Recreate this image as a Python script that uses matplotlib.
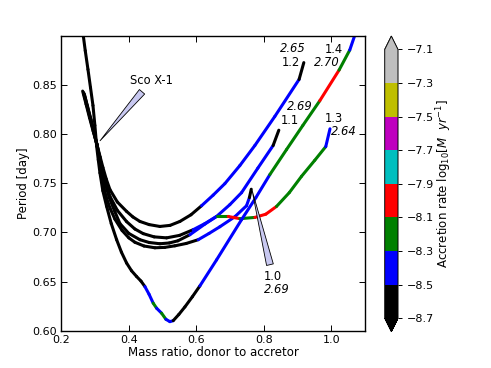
import matplotlib
matplotlib.use('Agg')
import matplotlib.pyplot as plt
import numpy as np
from matplotlib.collections import LineCollection
from matplotlib.colors import ListedColormap, BoundaryNorm
from matplotlib.cm import ScalarMappable

# accretion-rate colour classes (log10 Mdot)
rate_bounds = [-8.7, -8.5, -8.3, -8.1, -7.9, -7.7, -7.5, -7.3, -7.1]
rate_colors = ['k', 'b', 'g', 'r', 'c', 'm', 'y', '0.75']
K, B, G, R = -8.6, -8.4, -8.2, -8.0

# initial donor mass / initial period labels
curve_mass = ['1.0', '1.1', '1.2', '1.3', '1.4']
curve_period = ['2.69', '2.69', '2.65', '2.64', '2.70']

# track 1.4 (deep one)
q_14 = [0.2634, 0.271, 0.279, 0.2865, 0.2938, 0.2995, 0.3047, 0.3095, 0.3145, 0.323,
        0.3343, 0.348, 0.3639, 0.378, 0.3935, 0.408, 0.4231, 0.436, 0.4476, 0.46,
        0.4722, 0.4822, 0.497, 0.5098, 0.5216, 0.5314, 0.548, 0.566, 0.588, 0.6104,
        0.6598, 0.7337, 0.776, 0.8175, 0.8669, 0.9151, 0.9654, 1.0225, 1.0541, 1.0733]
p_14 = [0.905, 0.885, 0.866, 0.8475, 0.8293, 0.809, 0.7878, 0.774, 0.7606, 0.7425,
        0.7265, 0.709, 0.6926, 0.680, 0.6688, 0.661, 0.6551, 0.6505, 0.6449, 0.637,
        0.628, 0.6229, 0.6178, 0.6116, 0.6092, 0.6102, 0.6165, 0.6242, 0.6345, 0.6456,
        0.6721, 0.713, 0.7354, 0.7589, 0.7844, 0.8089, 0.8341, 0.8653, 0.8857, 0.905]
m_14 = [K, K, K, K, K, K, K, K, K, K,
        K, K, K, K, K, K, K, K, B, B,
        G, B, G, B, B, K, K, K, K, B,
        B, B, B, G, G, G, R, G, B, B]

# track 1.2
q_12 = [0.2657, 0.2755, 0.2849, 0.2955, 0.3056, 0.315, 0.3234, 0.333, 0.3441, 0.366,
        0.3935, 0.412, 0.4329, 0.46, 0.492, 0.522, 0.5512, 0.584, 0.6154, 0.6497,
        0.6843, 0.7287, 0.7731, 0.8322, 0.9041, 0.9181]
p_12 = [0.8426, 0.8295, 0.8171, 0.803, 0.7895, 0.777, 0.766, 0.7545, 0.7436, 0.731,
        0.7214, 0.7158, 0.7112, 0.708, 0.7061, 0.7072, 0.7112, 0.718, 0.7272, 0.738,
        0.7497, 0.7681, 0.7885, 0.8181, 0.8558, 0.8729]
m_12 = [K, K, K, K, K, K, K, K, K, K,
        K, K, K, K, K, K, K, K, B, B,
        B, B, B, B, K, K]

# track 1.1
q_11 = [0.2633, 0.2735, 0.2834, 0.2945, 0.3056, 0.3135, 0.3219, 0.332, 0.3441, 0.366,
        0.3935, 0.418, 0.4426, 0.475, 0.5118, 0.55, 0.5905, 0.625, 0.6598, 0.6991,
        0.7337, 0.782, 0.8272, 0.8441]
p_11 = [0.8439, 0.8305, 0.8171, 0.803, 0.7895, 0.7765, 0.764, 0.75, 0.7367, 0.7225,
        0.711, 0.7035, 0.6988, 0.6955, 0.6945, 0.697, 0.7028, 0.709, 0.7163, 0.7283,
        0.7405, 0.7655, 0.7885, 0.8041]
m_11 = [K, K, K, K, K, K, K, K, K, K,
        K, K, K, K, K, K, B, B, B, B,
        B, B, K, K]

# track 1.3
q_13 = [0.2672, 0.277, 0.2864, 0.296, 0.3056, 0.313, 0.3204, 0.330, 0.342, 0.357,
        0.3737, 0.40, 0.4329, 0.46, 0.492, 0.52, 0.5453, 0.5808, 0.6251, 0.6598,
        0.6941, 0.7287, 0.7731, 0.8056, 0.8373, 0.875, 0.9112, 0.9506, 0.9831, 0.9956]
p_13 = [0.8416, 0.8288, 0.816, 0.8025, 0.7895, 0.7775, 0.766, 0.750, 0.7355, 0.7225,
        0.709, 0.699, 0.6926, 0.6898, 0.6885, 0.6893, 0.6915, 0.6977, 0.7085, 0.7163,
        0.7163, 0.714, 0.7153, 0.7186, 0.7265, 0.7405, 0.7571, 0.7735, 0.7874, 0.8055]
m_13 = [K, K, K, K, K, K, K, K, K, K,
        K, K, K, K, K, K, K, B, B, G,
        R, G, R, R, G, G, G, G, B, B]

# track 1.0
q_10 = [0.2686, 0.278, 0.2879, 0.297, 0.3056, 0.3115, 0.317, 0.324, 0.333, 0.3445,
        0.3589, 0.38, 0.40, 0.418, 0.445, 0.4772, 0.5064, 0.5364, 0.57, 0.6053,
        0.6375, 0.6695, 0.7139, 0.7485, 0.757, 0.7625]
p_10 = [0.8405, 0.8278, 0.815, 0.802, 0.7895, 0.7765, 0.763, 0.749, 0.736, 0.7245,
        0.7135, 0.702, 0.6945, 0.690, 0.6862, 0.6844, 0.6848, 0.6864, 0.6888, 0.6926,
        0.699, 0.7058, 0.716, 0.7272, 0.7355, 0.744]
m_10 = [K, K, K, K, K, K, K, K, K, K,
        K, K, K, K, K, K, K, K, K, B,
        B, B, B, B, K, K]

tracks = [(q_10, p_10, m_10), (q_11, p_11, m_11), (q_12, p_12, m_12),
          (q_13, p_13, m_13), (q_14, p_14, m_14)]

cmap = ListedColormap(rate_colors)
cmap.set_under('k')
cmap.set_over('0.75')
norm = BoundaryNorm(rate_bounds, cmap.N)

fig = plt.figure(figsize=(4.91, 3.68), dpi=100)
ax = fig.add_axes([0.1248, 0.1014, 0.6191, 0.8008])

for q, p, m in tracks:
    pts = np.column_stack([q, p])
    segs = np.stack([pts[:-1], pts[1:]], axis=1)
    lc = LineCollection(segs, cmap=cmap, norm=norm, linewidths=2.2,
                        capstyle='round', joinstyle='round')
    lc.set_array(np.array(m[:-1]))
    ax.add_collection(lc)

ax.set_xlim(0.2, 1.1)
ax.set_ylim(0.6, 0.9)
ax.set_xticks([0.2, 0.4, 0.6, 0.8, 1.0])
ax.set_yticks([0.60, 0.65, 0.70, 0.75, 0.80, 0.85])
ax.set_yticklabels(['0.60', '0.65', '0.70', '0.75', '0.80', '0.85'])
ax.tick_params(direction='in', top=True, right=True, length=4, width=0.7, labelsize=8, pad=3)
for s in ax.spines.values():
    s.set_linewidth(1.0)
ax.set_xlabel('Mass ratio, donor to accretor', fontsize=8.5, labelpad=1)
ax.set_ylabel('Period [day]', fontsize=8.5, labelpad=2)

fs = 8.3
arrow_kw = dict(arrowstyle='wedge,tail_width=0.6,shrink_factor=0.5', fc='#c8c8f0', ec='k', lw=0.6)

# Sco X-1
ax.annotate('Sco X-1', xy=(0.3095, 0.7912), xytext=(0.468, 0.8548), ha='center', va='center',
            fontsize=fs, arrowprops=arrow_kw)

# curve-end labels
ax.text(0.8846, 0.8875, curve_period[2], style='italic', fontsize=fs, ha='center', va='center')
ax.text(0.8796, 0.8732, curve_mass[2], fontsize=fs, ha='center', va='center')
ax.text(1.0077, 0.8862, curve_mass[4], fontsize=fs, ha='center', va='center')
ax.text(0.987, 0.8732, curve_period[4], style='italic', fontsize=fs, ha='center', va='center')
ax.text(0.9062, 0.8282, curve_period[1], style='italic', fontsize=fs, ha='center', va='center')
ax.text(0.8766, 0.8143, curve_mass[1], fontsize=fs, ha='center', va='center')
ax.text(1.0068, 0.8165, curve_mass[3], fontsize=fs, ha='center', va='center')
ax.text(1.0364, 0.8030, curve_period[3], style='italic', fontsize=fs, ha='center', va='center')
ax.annotate(curve_mass[0], xy=(0.7633, 0.7453), xytext=(0.8263, 0.6550), ha='center', va='center',
            fontsize=fs, arrowprops=arrow_kw)
ax.text(0.8373, 0.6415, curve_period[0], style='italic', fontsize=fs, ha='center', va='center')

cax = fig.add_axes([0.7835, 0.0986, 0.0271, 0.8035])
sm = ScalarMappable(norm=norm, cmap=cmap)
cb = fig.colorbar(sm, cax=cax, extend='both', ticks=rate_bounds)
cb.ax.tick_params(labelsize=8, length=3, width=0.7)
cb.outline.set_linewidth(0.7)
cb.set_label(r'Accretion rate log$_{10}$[$M\ \ yr^{-1}$]', fontsize=8.5, labelpad=0)

fig.savefig('out.png', dpi=100)
